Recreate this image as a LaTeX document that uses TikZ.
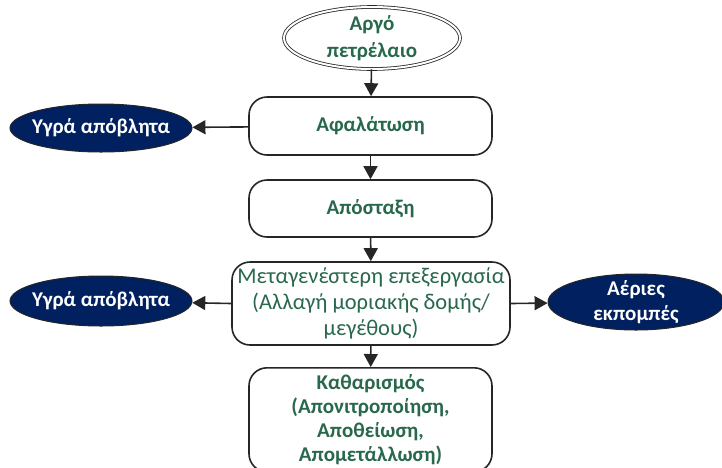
\documentclass[tikz,border=0pt]{standalone}
\usepackage{fontspec}
\setmainfont{Carlito}
\usetikzlibrary{shapes.geometric,arrows.meta}
\definecolor{stepgreen}{RGB}{40,104,76}
\definecolor{wastenavy}{RGB}{0,32,96}
\definecolor{linegray}{RGB}{38,38,38}
\begin{document}
\begin{tikzpicture}[x=1pt,y=-1pt,
  stepbox/.style={draw=linegray,line width=1.6pt,rounded corners=18pt,fill=white,
    align=center,text=stepgreen,font=\fontsize{21}{24}\selectfont\bfseries,inner sep=2pt},
  wastebox/.style={ellipse,draw=linegray,line width=1pt,fill=wastenavy,text=white,
    align=center,font=\fontsize{21}{25}\selectfont\bfseries,inner xsep=-5pt,inner ysep=-3pt},
  feedbox/.style={ellipse,draw=linegray,line width=0.8pt,double=white,double distance=2pt,
    fill=white,align=center,text=stepgreen,font=\fontsize{21}{27}\selectfont\bfseries,
    inner xsep=0pt,inner ysep=-1pt},
  flow/.style={draw=linegray,line width=1.6pt,-{Triangle[length=13pt,width=14pt]}}]
\useasboundingbox (0,0) rectangle (722,467);

% feedstock
\node[feedbox,minimum width=176pt,minimum height=62pt] (oil) at (372,38) {Αργό\\πετρέλαιο};

% main process steps
\node[stepbox,minimum width=243pt,minimum height=58pt] (desalt) at (370.5,126) {Αφαλάτωση};
\node[stepbox,minimum width=243pt,minimum height=57pt] (distil) at (370.5,208.5) {Απόσταξη};
\node[stepbox,minimum width=278pt,minimum height=83pt,
  font=\fontsize{22.5}{26}\selectfont] (post) at (371,303.5)
  {Μεταγενέστερη επεξεργασία\\(Αλλαγή μοριακής δομής/\\μεγέθους)};
\node[stepbox,minimum width=243pt,minimum height=104pt,anchor=north] (clean) at (370.5,367)
  {Καθαρισμός\\(Απονιτροποίηση,\\Αποθείωση,\\Απομετάλλωση)};

% waste streams
\node[wastebox,minimum width=182pt,minimum height=48pt] (liq1) at (101,128) {Υγρά απόβλητα};
\node[wastebox,minimum width=182pt,minimum height=50pt] (liq2) at (101,301) {Υγρά απόβλητα};
\node[wastebox,minimum width=176pt,minimum height=56pt] (gas) at (636,302) {Αέριες\\εκπομπές};

% connectors
\draw[flow] (oil) -- (desalt);
\draw[flow] (desalt) -- (distil);
\draw[flow] (distil) -- (post);
\draw[flow] (post) -- (clean);
\draw[flow] (desalt) -- (liq1);
\draw[flow] (post.west) -- (liq2);
\draw[flow] (post.east) -- (gas);
\end{tikzpicture}
\end{document}
